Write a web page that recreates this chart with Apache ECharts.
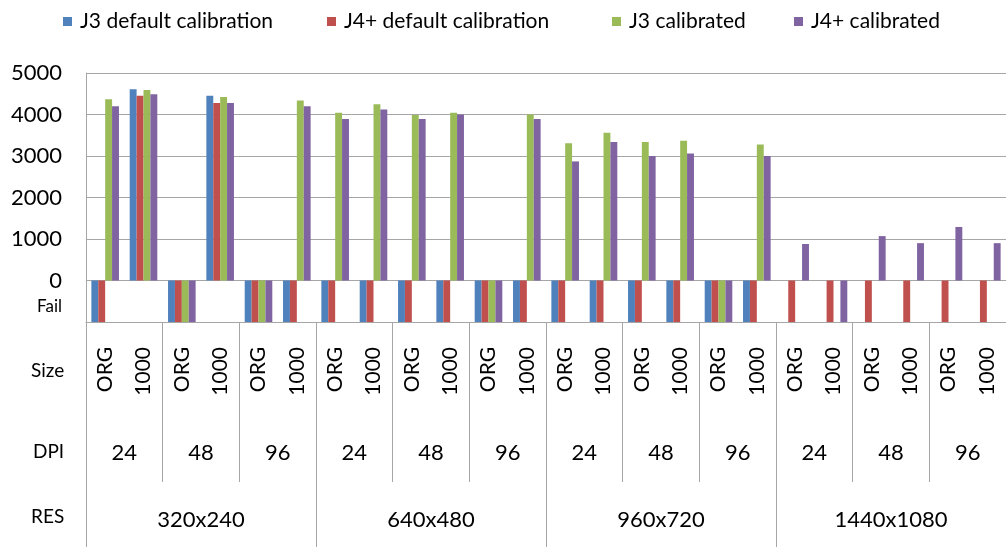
<!DOCTYPE html>
<html>
<head>
<meta charset="utf-8">
<script src="https://cdn.jsdelivr.net/npm/echarts@6/dist/echarts.min.js"></script>
<style>
  html, body { margin: 0; padding: 0; background: #fff; }
  #chart { width: 1006px; height: 547px; }
</style>
</head>
<body>
<div id="chart"></div>
<script>
// value used for a failed run, drawn below the zero line
const FAIL = -1000

const resList = ['320x240', '640x480', '960x720', '1440x1080']
const dpiList = ['24', '48', '96']
const sizeList = ['ORG', '1000']
const yTicks = [FAIL, 0, 1000, 2000, 3000, 4000, 5000]

const seriesNames = ['J3 default calibration', 'J4+ default calibration', 'J3 calibrated', 'J4+ calibrated']
const seriesColors = ['#4F81BD', '#C0504D', '#9BBB59', '#8064A2']

const j3Default = [
  FAIL, 4610, FAIL, 4450, FAIL, FAIL,
  FAIL, FAIL, FAIL, FAIL, FAIL, FAIL,
  FAIL, FAIL, FAIL, FAIL, FAIL, FAIL,
  null, null, null, null, null, null,
]
const j4Default = [
  FAIL, 4450, FAIL, 4280, FAIL, FAIL,
  FAIL, FAIL, FAIL, FAIL, FAIL, FAIL,
  FAIL, FAIL, FAIL, FAIL, FAIL, FAIL,
  FAIL, FAIL, FAIL, FAIL, FAIL, FAIL,
]
const j3Calibrated = [
  4370, 4590, FAIL, 4420, FAIL, 4340,
  4040, 4250, 3990, 4040, FAIL, 4000,
  3310, 3560, 3340, 3370, FAIL, 3280,
  null, null, null, null, null, null,
]
const j4Calibrated = [
  4200, 4490, FAIL, 4280, FAIL, 4200,
  3890, 4120, 3890, 4000, FAIL, 3890,
  2870, 3340, 3000, 3060, FAIL, 3000,
  880, FAIL, 1070, 900, 1290, 900,
]

// level categories, built from the small lists above
const dpiCats = []
const sizeCats = []
resList.forEach(() => {
  dpiList.forEach(d => {
    dpiCats.push(d)
    sizeList.forEach(s => sizeCats.push(s))
  })
})

const FONT = 'Lato'
const GRAY = '#a6a6a6'
const legendLeft = [63, 327, 612, 794]

const chart = echarts.init(document.getElementById('chart'))

chart.setOption({
  animation: false,
  textStyle: { fontFamily: FONT, color: '#000' },
  // one legend per entry so each sits where the original put it
  legend: seriesNames.map((name, i) => ({
    data: [name],
    left: legendLeft[i],
    top: 11,
    padding: 0,
    icon: 'rect',
    itemWidth: 9,
    itemHeight: 9,
    textStyle: { fontFamily: FONT, fontSize: 21, color: '#000', padding: [0, 0, 0, 3] },
  })),
  grid: { left: 86, top: 73, width: 930, height: 249 },
  xAxis: [
    {
      type: 'category',
      data: sizeCats,
      position: 'bottom',
      axisLine: { onZero: false, lineStyle: { color: GRAY } },
      axisTick: { show: false },
      axisLabel: { interval: 0, rotate: 90, margin: 25, fontSize: 21, color: '#000' },
    },
    {
      type: 'category',
      data: dpiCats,
      position: 'bottom',
      axisLine: { show: false, onZero: false },
      axisTick: { show: true, interval: 0, length: 160, lineStyle: { color: GRAY } },
      axisLabel: { interval: 0, margin: 120, fontSize: 22, color: '#000' },
    },
    {
      type: 'category',
      data: resList,
      position: 'bottom',
      axisLine: { show: false, onZero: false },
      axisTick: { show: true, interval: 0, length: 230, lineStyle: { color: GRAY } },
      axisLabel: { interval: 0, margin: 187, fontSize: 22, color: '#000' },
    },
  ],
  yAxis: {
    type: 'value',
    min: yTicks[0],
    max: yTicks[yTicks.length - 1],
    interval: 1000,
    axisLine: { show: true, lineStyle: { color: GRAY } },
    axisTick: { show: false },
    splitLine: { lineStyle: { color: GRAY } },
    axisLabel: {
      margin: 24,
      fontSize: 22,
      color: '#000',
      formatter: v => (v === FAIL ? '{fail|Fail}' : String(v)),
      rich: { fail: { fontSize: 17, padding: [0, 0, 30, 0], color: '#000' } },
    },
  },
  graphic: [
    { type: 'text', left: 31, top: 361, style: { text: 'Size', font: '19px ' + FONT, fill: '#000' } },
    { type: 'text', left: 33, top: 442, style: { text: 'DPI', font: '19px ' + FONT, fill: '#000' } },
    { type: 'text', left: 31, top: 507, style: { text: 'RES', font: '19px ' + FONT, fill: '#000' } },
  ],
  series: [j3Default, j4Default, j3Calibrated, j4Calibrated].map((data, i) => ({
    name: seriesNames[i],
    type: 'bar',
    data,
    xAxisIndex: 0,
    barGap: '0%',
    barCategoryGap: '28%',
    itemStyle: { color: seriesColors[i] },
  })),
})
</script>
</body>
</html>
